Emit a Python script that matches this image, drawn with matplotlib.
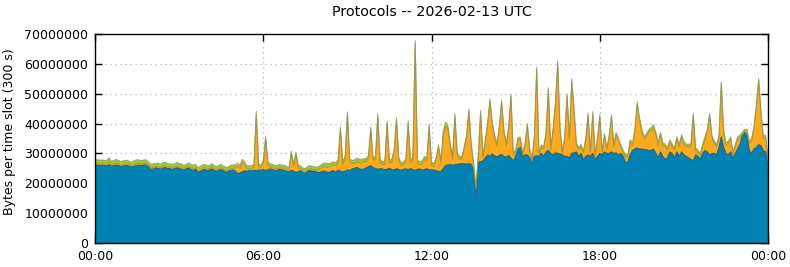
import numpy as np
from matplotlib import pyplot as plt
from matplotlib.ticker import FixedLocator

# 5-minute slots over the day, values in millions of bytes per slot
blue = [
    26.0, 26.2, 25.9, 26.1, 26.0, 25.8, 26.3, 25.7, 25.9, 26.1, 26.0, 25.6,
    25.8, 26.0, 25.9, 25.6, 25.5, 25.8, 26.0, 26.1, 25.9, 26.2, 26.0, 25.4,
    24.6, 24.8, 25.2, 25.0, 24.7, 25.1, 25.3, 24.9, 25.0, 24.6, 24.9, 25.2,
    25.0, 24.7, 24.4, 24.8, 25.1, 24.6, 24.3, 24.7, 23.8, 23.9, 24.4, 24.6,
    24.2, 24.5, 24.8, 24.3, 24.0, 24.4, 24.6, 24.2, 23.6, 24.0, 24.3, 24.5,
    24.1, 23.2, 23.5, 23.8, 24.2, 24.0, 24.3, 24.1, 24.4, 24.2, 24.5, 24.3,
    24.6, 24.3, 24.5, 24.8, 24.6, 24.2, 24.4, 24.7, 24.5, 24.3, 24.0, 23.8,
    24.3, 24.1, 23.6, 23.9, 24.2, 23.5, 23.3, 24.0, 24.3, 23.9, 24.1, 23.7,
    23.6, 23.9, 24.1, 23.8, 23.6, 24.0, 24.2, 23.7, 24.4, 24.1, 23.8, 24.0,
    24.5, 24.2, 24.8, 25.0, 25.3, 24.9, 24.6, 24.8, 25.1, 25.5, 25.9, 25.2,
    25.0, 24.7, 24.9, 24.8, 24.5, 24.7, 25.0, 24.6, 24.4, 24.9, 24.6, 24.3,
    24.7, 24.8, 24.5, 24.9, 24.6, 24.3, 24.7, 24.8, 24.4, 24.6, 24.9, 24.5,
    24.5, 24.4, 24.2, 24.0, 23.8, 24.9, 26.0, 26.1, 26.3, 26.0, 26.2, 26.4,
    26.5, 26.6, 26.5, 26.4, 26.6, 26.3, 24.5, 15.0, 27.0, 27.2, 27.5, 28.5,
    29.5, 29.0, 29.8, 29.2, 28.8, 29.4, 29.6, 29.0, 28.7, 29.3, 28.5, 27.5,
    29.0, 31.5, 32.0, 29.0, 29.5, 29.5, 28.5, 27.0, 29.0, 29.2, 29.0, 30.0,
    29.0, 30.5, 31.0, 30.0, 29.5, 30.2, 30.0, 29.8, 29.5, 29.0, 29.0, 28.5,
    30.0, 30.2, 30.5, 29.0, 30.0, 28.0, 29.0, 29.5, 29.0, 30.0, 28.0, 29.0,
    30.0, 29.5, 30.5, 30.0, 30.0, 30.5, 30.0, 30.2, 29.5, 30.0, 29.0, 27.0,
    27.0, 29.5, 31.0, 31.5, 31.8, 31.5, 31.5, 31.3, 31.2, 31.0, 31.0, 31.5,
    30.0, 28.5, 30.5, 29.0, 28.0, 28.5, 30.5, 30.0, 28.5, 30.5, 29.0, 30.5,
    29.5, 29.0, 28.5, 28.0, 27.5, 29.5, 29.0, 28.0, 30.0, 31.0, 30.5, 29.5,
    30.0, 30.0, 29.5, 32.0, 35.5, 32.0, 30.0, 29.5, 30.5, 28.5, 30.0, 31.5,
    33.0, 36.0, 37.0, 36.0, 31.0, 30.0, 31.5, 32.0, 33.0, 32.5, 31.0, 30.5, 26.0,
]

orange = [
    0.7, 0.6, 0.6, 0.5, 0.6, 0.7, 0.9, 0.6, 0.5, 0.6, 0.6, 0.5,
    0.6, 0.5, 0.6, 0.6, 0.5, 0.6, 0.7, 0.6, 0.5, 0.6, 0.6, 0.5,
    0.5, 0.6, 0.5, 0.6, 0.5, 0.6, 0.5, 0.6, 0.5, 0.6, 0.5, 0.6,
    0.5, 0.6, 0.5, 0.5, 0.6, 0.5, 0.6, 0.5, 0.5, 0.6, 0.5, 0.6,
    0.6, 0.5, 0.6, 0.5, 0.6, 0.5, 0.6, 0.5, 0.6, 0.5, 0.6, 0.5,
    1.0, 2.5, 1.5, 3.0, 2.0, 0.8, 0.6, 0.7, 0.9, 19.0, 1.0, 0.8,
    2.0, 10.5, 1.5, 0.7, 0.6, 0.7, 0.6, 0.5, 0.6, 0.7, 0.6, 0.5,
    5.5, 1.5, 5.8, 1.0, 0.6, 0.6, 0.5, 0.6, 0.7, 0.6, 0.5, 0.6,
    1.2, 1.3, 1.5, 1.6, 1.8, 1.7, 2.0, 2.2, 2.5, 14.0, 2.5, 4.0,
    18.5, 3.0, 1.8, 1.6, 1.8, 2.0, 2.2, 2.5, 2.0, 3.0, 12.0, 2.5,
    3.0, 17.8, 2.0, 1.5, 1.8, 15.3, 1.8, 2.5, 6.0, 16.1, 3.0, 1.5,
    1.5, 2.5, 15.5, 2.0, 3.0, 42.7, 2.0, 1.5, 2.0, 3.5, 2.5, 14.5,
    1.5, 1.2, 3.5, 8.0, 3.0, 11.0, 13.0, 12.0, 6.0, 2.0, 16.3, 3.0,
    1.5, 1.5, 5.0, 9.0, 17.4, 6.0, 1.5, 3.0, 2.0, 16.3, 1.0, 5.0,
    10.0, 18.5, 10.0, 6.0, 3.7, 9.0, 17.4, 8.0, 3.8, 9.0, 20.5, 1.7,
    1.5, 3.0, 2.7, 0.5, 3.0, 9.7, 2.5, 0.3, 6.0, 29.0, 0.3, 2.0,
    2.5, 6.0, 20.2, 1.2, 8.0, 16.0, 30.2, 8.0, 0.5, 6.0, 20.2, 6.2,
    24.2, 14.0, 2.0, 2.2, 2.2, 2.2, 5.2, 13.2, 1.2, 13.2, 1.2, 5.2,
    12.2, 0.7, 5.2, 1.2, 5.2, 11.7, 2.2, 6.0, 4.7, 2.2, 1.2, 1.7,
    1.7, 4.2, 1.7, 5.7, 14.7, 9.7, 5.7, 3.4, 4.5, 6.2, 6.7, 7.2,
    6.2, 4.2, 5.7, 3.7, 4.2, 2.7, 3.2, 2.2, 2.7, 4.2, 3.2, 4.7,
    3.7, 3.2, 3.7, 4.2, 15.2, 1.7, 1.2, 1.2, 2.2, 3.7, 6.7, 13.2,
    5.2, 3.2, 2.7, 3.2, 17.7, 5.2, 2.7, 3.7, 4.2, 1.2, 2.2, 3.2,
    2.2, 0.3, 0.3, 1.3, 2.3, 4.3, 6.8, 13.3, 21.3, 10.8, 3.8, 4.8, 1.3,
]

green = [
    1.2, 1.1, 1.3, 1.2, 1.0, 1.2, 1.4, 1.1, 1.2, 1.3, 1.1, 1.2,
    1.1, 1.2, 1.2, 1.0, 1.1, 1.3, 1.2, 1.1, 1.2, 1.1, 1.2, 1.1,
    1.2, 1.1, 1.0, 1.2, 1.1, 1.2, 1.3, 1.1, 1.0, 1.2, 1.1, 1.2,
    1.1, 1.2, 1.1, 1.0, 1.2, 1.1, 1.2, 1.1, 1.0, 1.1, 1.2, 1.1,
    1.1, 1.0, 1.2, 1.1, 1.0, 1.1, 1.2, 1.0, 1.1, 1.0, 1.1, 1.2,
    1.0, 1.1, 1.0, 1.2, 1.0, 1.1, 1.0, 1.1, 1.0, 1.0, 1.1, 1.0,
    1.0, 1.0, 1.1, 1.0, 1.1, 1.0, 1.0, 1.1, 1.0, 1.1, 1.0, 1.0,
    1.0, 1.0, 1.0, 1.1, 1.0, 1.0, 1.1, 1.0, 1.0, 1.1, 1.0, 1.0,
    1.0, 1.1, 1.2, 1.3, 1.2, 1.1, 1.0, 1.1, 1.0, 0.9, 1.0, 1.0,
    0.9, 1.0, 1.1, 1.2, 1.3, 1.2, 1.1, 1.0, 1.1, 0.9, 1.0, 1.0,
    0.9, 0.9, 1.0, 1.0, 1.1, 0.9, 1.0, 1.0, 1.0, 0.9, 1.0, 1.0,
    1.0, 0.9, 0.9, 1.0, 1.0, 0.8, 1.0, 1.0, 1.1, 1.0, 1.0, 0.9,
    1.0, 1.0, 1.0, 0.9, 1.0, 1.5, 1.5, 1.4, 1.2, 1.1, 0.9, 1.0,
    1.0, 1.0, 0.9, 0.9, 0.9, 1.0, 1.0, 0.8, 0.9, 0.9, 1.0, 1.0,
    0.9, 0.8, 0.9, 0.9, 1.0, 0.9, 0.8, 0.9, 1.0, 0.9, 0.8, 0.8,
    0.8, 0.9, 0.8, 0.8, 0.9, 0.8, 0.9, 0.8, 0.9, 0.8, 0.8, 0.9,
    0.9, 0.8, 0.8, 0.9, 0.8, 0.8, 0.8, 0.9, 0.8, 0.8, 0.8, 0.9,
    0.8, 0.8, 0.9, 0.8, 0.9, 0.8, 0.9, 0.8, 0.8, 0.8, 0.9, 0.9,
    0.8, 0.9, 0.9, 0.8, 0.9, 0.8, 0.9, 0.9, 0.8, 0.9, 0.9, 0.9,
    0.9, 0.9, 0.9, 0.9, 0.8, 0.9, 0.9, 0.9, 0.9, 0.9, 0.9, 0.9,
    0.9, 0.9, 0.9, 0.9, 0.9, 0.9, 0.9, 0.9, 0.8, 0.9, 0.9, 1.0,
    1.0, 0.9, 0.9, 0.9, 0.8, 0.8, 0.9, 0.9, 0.9, 0.9, 0.9, 0.8,
    0.9, 0.9, 0.9, 0.9, 0.8, 0.9, 0.9, 0.9, 0.9, 0.9, 0.9, 0.9,
    0.9, 0.8, 0.8, 0.8, 0.8, 0.9, 0.9, 0.8, 0.8, 0.9, 0.9, 0.9, 0.8,
]

x_ticks = [0, 6, 12, 18, 24]
x_labels = ["00:00", "06:00", "12:00", "18:00", "00:00"]
y_ticks = [0, 10000000, 20000000, 30000000, 40000000, 50000000, 60000000, 70000000]

hours = np.arange(len(blue)) / 12.0
scale = 1e6
layers = np.array([blue, orange, green]) * scale

fig = plt.figure(figsize=(7.9, 2.67), dpi=100)
ax = fig.add_axes([0.1203, 0.0899, 0.8519, 0.7828])

# filled layers, no outlines
ax.stackplot(hours, *layers, colors=["#0082b3", "#ffaa1a", "#9acb34"],
             linewidth=0)

# thin darker outlines along the top of each layer
tops = np.cumsum(layers, axis=0)
ax.plot(hours, tops[0], color="#17678c", lw=0.8)
ax.plot(hours, tops[1], color="#b98a2a", lw=0.7, alpha=0.9)
ax.plot(hours, tops[2], color="#8c9a5a", lw=0.7, alpha=0.8)

ax.set_xlim(0, 24)
ax.set_ylim(0, 70000000)
ax.xaxis.set_major_locator(FixedLocator(x_ticks))
ax.set_xticklabels(x_labels)
ax.yaxis.set_major_locator(FixedLocator(y_ticks))
ax.ticklabel_format(style="plain", axis="y", useOffset=False)

ax.set_axisbelow(True)
ax.grid(True, color="#b4b4b4", linestyle=(0, (1, 3)), linewidth=0.9)
ax.tick_params(direction="in", top=True, right=True, length=5, width=1,
               labelsize=9, pad=5)
for s in ax.spines.values():
    s.set_linewidth(1.0)

ax.set_ylabel("Bytes per time slot (300 s)", fontsize=9)
ax.yaxis.set_label_coords(-0.118, 0.535)
fig.text(0.5465, 0.955, "Protocols -- 2026-02-13 UTC", ha="center",
         va="center", fontsize=10.3)

fig.savefig("out.png", dpi=100)
